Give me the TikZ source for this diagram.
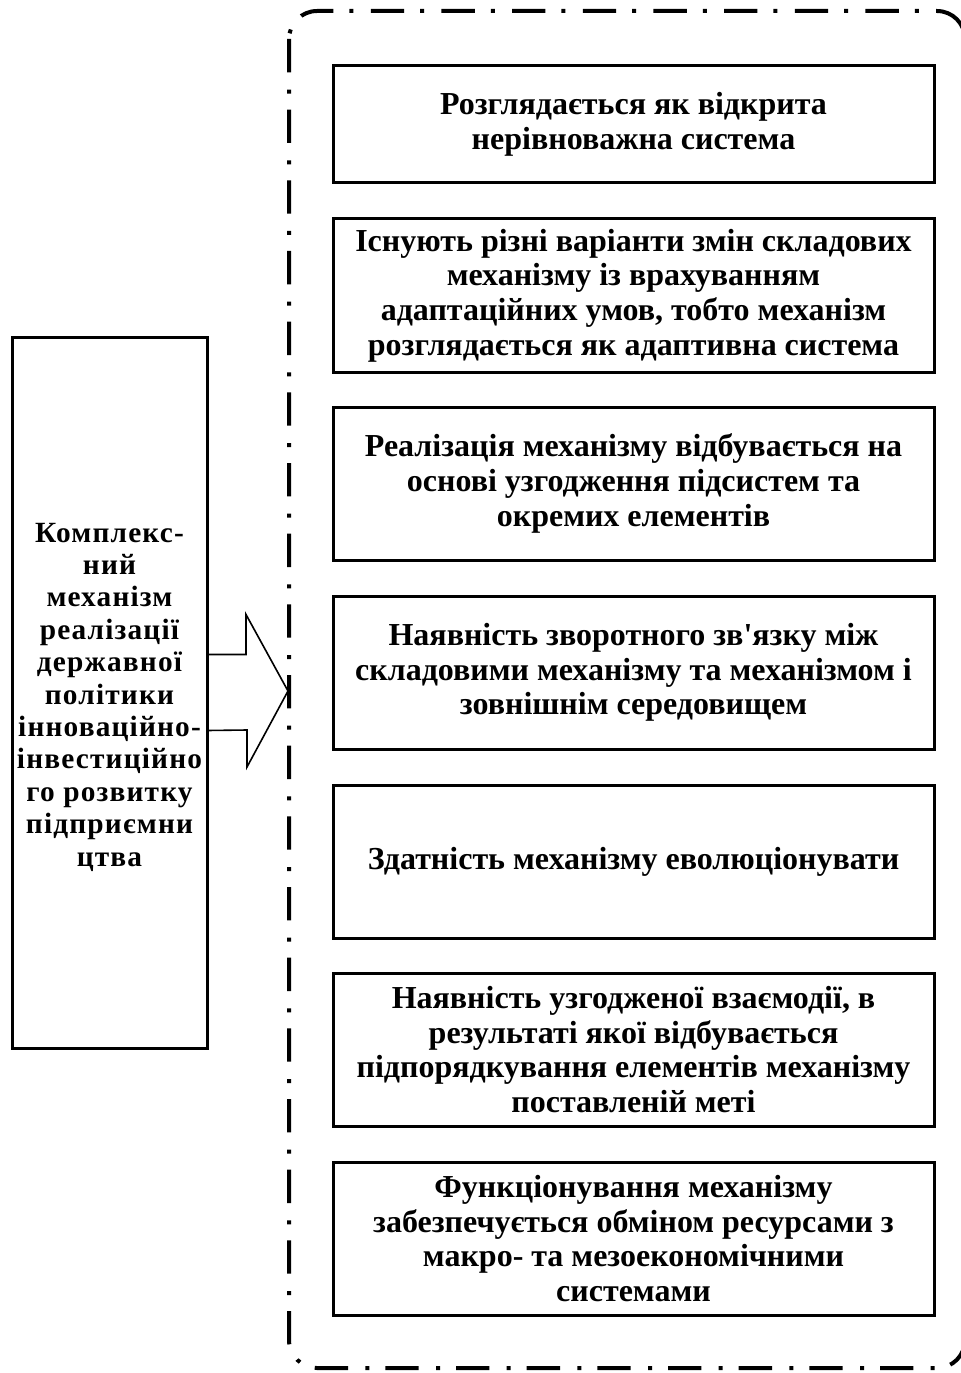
\documentclass[tikz,border=0pt]{standalone}
\usepackage{fontspec}
\setmainfont{Liberation Serif}[Ligatures=TeXOff]
\begin{document}
\begin{tikzpicture}[x=0.75pt,y=-0.75pt,
  frame/.style={line width=3pt, rounded corners=21pt,
    dash pattern=on 25pt off 13pt on 3pt off 12pt},
  itembox/.style={draw, line width=2.25pt, minimum width=450.75pt,
    minimum height=114.75pt, inner sep=0pt, outer sep=0pt, align=center,
    font=\bfseries\fontsize{24}{26}\selectfont},
  mainbox/.style={draw, line width=2.25pt, minimum width=146.25pt,
    minimum height=533.25pt, inner sep=0pt, outer sep=0pt},
  maintext/.style={inner sep=0pt, align=center,
    font=\bfseries\fontsize{22}{24.3}\selectfont\addfontfeature{LetterSpace=4}},
  pointer/.style={line width=1.2pt, line join=miter}]
\useasboundingbox (0,0) rectangle (960,1373);

% dash-dot frame around the list of properties
\draw[frame] (289,11) rectangle (965,1368);

% the mechanism
\node[mainbox] (main) at (109.5,692.5) {};
\node[maintext] (mainlabel) at (109.5,697)
  {Комплекс-\\ний\\механізм\\реалізації\\державної\\політики\\інноваційно-\\інвестиційно\\го розвитку\\підприємни\\цтва};

% its properties
\node[itembox, minimum height=87.75pt] (p1) at (633.5,124.5)
  {Розглядається як відкрита\\нерівноважна система};
\node[itembox] (p2) at (633.5,295.5)
  {Існують різні варіанти змін складових\\механізму із врахуванням\\адаптаційних умов, тобто механізм\\розглядається як адаптивна система};
\node[itembox] (p3) at (633.5,483.5)
  {Реалізація механізму відбувається на\\основі узгодження підсистем та\\окремих елементів};
\node[itembox] (p4) at (633.5,672.5)
  {Наявність зворотного зв'язку між\\складовими механізму та механізмом і\\зовнішнім середовищем};
\node[itembox] (p5) at (633.5,861.5)
  {Здатність механізму еволюціонувати};
\node[itembox] (p6) at (633.5,1049.5)
  {Наявність узгодженої взаємодії, в\\результаті якої відбувається\\підпорядкування елементів механізму\\поставленій меті};
\node[itembox] (p7) at (633.5,1238.5)
  {Функціонування механізму\\забезпечується обміном ресурсами з\\макро- та мезоекономічними\\системами};

% block arrow from the mechanism towards the frame
\coordinate (tip) at (288,691);
\draw[pointer] ([yshift=28.5pt]main.east) -- ++(39,0) -- ++(0,-40)
  -- (tip) -- ++(-41,76) -- ++(0,-37) -- ([yshift=-28.5pt]main.east);
\end{tikzpicture}
\end{document}
